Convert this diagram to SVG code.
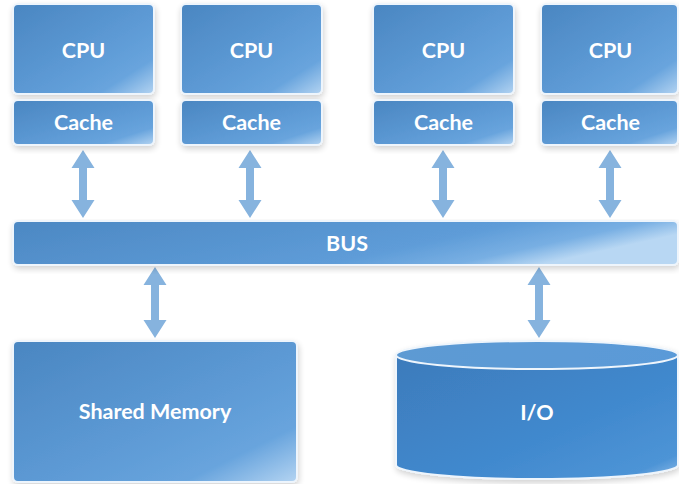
<svg xmlns="http://www.w3.org/2000/svg" width="679" height="484" viewBox="0 0 679 484">
<defs>
  <linearGradient id="boxGrad" x1="0" y1="0" x2="1" y2="1">
    <stop offset="0" stop-color="#4a86c1"/>
    <stop offset="0.55" stop-color="#5d9ad5"/>
    <stop offset="0.8" stop-color="#68a4dd"/>
    <stop offset="1" stop-color="#b4d4f2"/>
  </linearGradient>
  <linearGradient id="busGrad" x1="0" y1="0" x2="1" y2="0.3">
    <stop offset="0" stop-color="#4c88c3"/>
    <stop offset="0.7" stop-color="#5e9cd8"/>
    <stop offset="0.88" stop-color="#78afe3"/>
    <stop offset="1" stop-color="#b8d7f3"/>
  </linearGradient>
  <linearGradient id="cylBody" x1="0" y1="0" x2="1" y2="1">
    <stop offset="0" stop-color="#3d7bbb"/>
    <stop offset="0.6" stop-color="#4189ce"/>
    <stop offset="0.9" stop-color="#4d94d6"/>
    <stop offset="1" stop-color="#8dbbe8"/>
  </linearGradient>
  <linearGradient id="cylTop" x1="0" y1="0" x2="1" y2="0">
    <stop offset="0" stop-color="#5d9ad3"/>
    <stop offset="1" stop-color="#5a9ad8"/>
  </linearGradient>
  <filter id="shadow" x="-10%" y="-10%" width="120%" height="130%">
    <feGaussianBlur in="SourceAlpha" stdDeviation="3"/>
    <feOffset dx="1" dy="3" result="b"/>
    <feComponentTransfer><feFuncA type="linear" slope="0.18"/></feComponentTransfer>
    <feMerge><feMergeNode/><feMergeNode in="SourceGraphic"/></feMerge>
  </filter>
</defs>
<style>
  .box { fill: url(#boxGrad); stroke: #eef5fc; stroke-width: 2; filter: url(#shadow); }
  .bus { fill: url(#busGrad); stroke: #eef5fc; stroke-width: 2; filter: url(#shadow); }
  .lbl { fill: #ffffff; font-family: Lato, "Open Sans", "Liberation Sans", sans-serif; font-weight: 700; font-size: 21.5px; text-anchor: middle; }
  .arrow { fill: #86b3de; }
</style>
<rect width="679" height="484" fill="#ffffff"/>

<g id="connectors">
  <path class="arrow" d="M83,150 L94.5,168 L87,168 L87,200 L94.5,200 L83,218 L71.5,200 L79,200 L79,168 L71.5,168 Z"/>
  <path class="arrow" d="M250,150 L261.5,168 L254,168 L254,200 L261.5,200 L250,218 L238.5,200 L246,200 L246,168 L238.5,168 Z"/>
  <path class="arrow" d="M443,150 L454.5,168 L447,168 L447,200 L454.5,200 L443,218 L431.5,200 L439,200 L439,168 L431.5,168 Z"/>
  <path class="arrow" d="M610,150 L621.5,168 L614,168 L614,200 L621.5,200 L610,218 L598.5,200 L606,200 L606,168 L598.5,168 Z"/>
  <path class="arrow" d="M155,267 L166.5,285 L159,285 L159,320 L166.5,320 L155,338 L143.5,320 L151,320 L151,285 L143.5,285 Z"/>
  <path class="arrow" d="M539,267 L550.5,285 L543,285 L543,320 L550.5,320 L539,338 L527.5,320 L535,320 L535,285 L527.5,285 Z"/>
</g>

<g id="cpu1">
  <rect class="box" x="13" y="4" width="141" height="90" rx="5"/>
  <text class="lbl" x="83.5" y="57.5">CPU</text>
</g>
<g id="cache1">
  <rect class="box" x="13" y="100" width="141" height="45" rx="5"/>
  <text class="lbl" x="83.5" y="130">Cache</text>
</g>
<g id="cpu2">
  <rect class="box" x="181" y="4" width="141" height="90" rx="5"/>
  <text class="lbl" x="251.5" y="57.5">CPU</text>
</g>
<g id="cache2">
  <rect class="box" x="181" y="100" width="141" height="45" rx="5"/>
  <text class="lbl" x="251.5" y="130">Cache</text>
</g>
<g id="cpu3">
  <rect class="box" x="373" y="4" width="141" height="90" rx="5"/>
  <text class="lbl" x="443.5" y="57.5">CPU</text>
</g>
<g id="cache3">
  <rect class="box" x="373" y="100" width="141" height="45" rx="5"/>
  <text class="lbl" x="443.5" y="130">Cache</text>
</g>
<g id="cpu4">
  <rect class="box" x="541" y="4" width="137" height="90" rx="5"/>
  <text class="lbl" x="610.5" y="57.5">CPU</text>
</g>
<g id="cache4">
  <rect class="box" x="541" y="100" width="137" height="45" rx="5"/>
  <text class="lbl" x="610.5" y="130">Cache</text>
</g>

<g id="bus">
  <rect class="bus" x="13" y="221" width="665" height="44" rx="5"/>
  <text class="lbl" x="347" y="250.5">BUS</text>
</g>

<g id="memory">
  <rect class="box" x="13" y="341" width="284" height="141" rx="5"/>
  <text class="lbl" x="155" y="418.5">Shared Memory</text>
</g>

<g id="io">
  <g filter="url(#shadow)">
    <path d="M396,355 L396,465 A141,14 0 0 0 678,465 L678,355 Z" fill="url(#cylBody)" stroke="#eef5fc" stroke-width="2"/>
    <ellipse cx="537" cy="355" rx="141" ry="14" fill="url(#cylTop)" stroke="#eef5fc" stroke-width="2"/>
  </g>
  <text class="lbl" x="537" y="419.5">I/O</text>
</g>
</svg>
